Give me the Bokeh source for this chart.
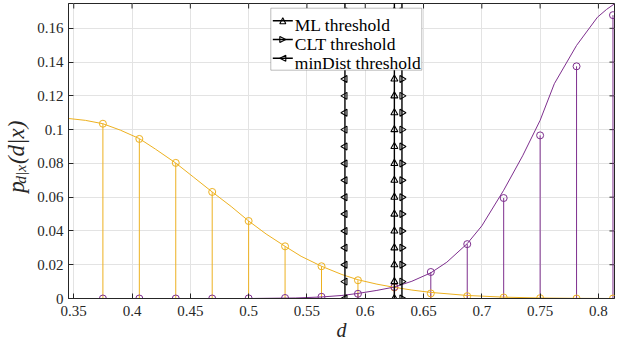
import numpy as np
from bokeh.plotting import figure
from bokeh.models import FixedTicker, Label, Range1d, BoxAnnotation, Arrow, NormalHead, LinearAxis
from bokeh.embed import file_html
from bokeh.resources import INLINE

# ---- data ----
d_pts = [0.375, 0.40625, 0.4375, 0.46875, 0.5, 0.53125, 0.5625, 0.59375,
         0.625, 0.65625, 0.6875, 0.71875, 0.75, 0.78125, 0.8125]
p_yellow = [0.1035, 0.0945, 0.0803, 0.0631, 0.0459, 0.0309, 0.0191, 0.0108,
            0.0065, 0.0030, 0.0014, 0.0006, 0.0002, 0.0, 0.0]
p_purple = [0.0, 0.0, 0.0, 0.0, 0.0001, 0.0003, 0.0010, 0.0028,
            0.0068, 0.0157, 0.0322, 0.0595, 0.0966, 0.1375, 0.1678]

curve_y_d = [0.3455, 0.36, 0.375, 0.39, 0.40625, 0.42, 0.4375, 0.4525, 0.46875,
             0.485, 0.5, 0.515, 0.53125, 0.545, 0.5625, 0.58, 0.59375, 0.61,
             0.625, 0.64, 0.65625, 0.6875, 0.71875, 0.75, 0.78125, 0.8138]
curve_y_v = [0.1066, 0.1055, 0.1035, 0.0997, 0.0947, 0.0885, 0.0802, 0.0720, 0.0631,
             0.0545, 0.0459, 0.0382, 0.0309, 0.0250, 0.0191, 0.0142, 0.0111, 0.0085,
             0.0066, 0.0050, 0.0036, 0.0018, 0.0008, 0.0003, 0.0001, 0.0]

curve_p_d = [0.3455, 0.5, 0.54, 0.5625, 0.58, 0.59375, 0.61, 0.625, 0.64, 0.65625,
             0.67, 0.6875, 0.70, 0.71875, 0.735, 0.75, 0.7622, 0.7813, 0.7992,
             0.807, 0.8138]
curve_p_v = [0.0, 0.0, 0.0003, 0.0009, 0.0018, 0.0030, 0.0048, 0.0068, 0.0102, 0.0152,
             0.0215, 0.0325, 0.0430, 0.0641, 0.0845, 0.1055, 0.1272, 0.1499, 0.1666,
             0.1712, 0.1745]

thr_ml = 0.625
thr_clt = 0.6315
thr_md = 0.5826
thr_y = [0.0, 0.01, 0.02, 0.03, 0.04, 0.05, 0.06, 0.07, 0.08, 0.09, 0.10,
         0.11, 0.12, 0.13, 0.14, 0.15, 0.16, 0.17, 0.18]
legend_labels = ["ML threshold", "CLT threshold", "minDist threshold"]

X_MIN, X_MAX = 0.3455, 0.8138
Y_MIN, Y_MAX = 0.0, 0.1747
x_ticks = [0.35, 0.4, 0.45, 0.5, 0.55, 0.6, 0.65, 0.7, 0.75, 0.8]
x_tick_labels = ["0.35", "0.4", "0.45", "0.5", "0.55", "0.6", "0.65", "0.7", "0.75", "0.8"]
y_ticks = [0, 0.02, 0.04, 0.06, 0.08, 0.1, 0.12, 0.14, 0.16]
y_tick_labels = ["0", "0.02", "0.04", "0.06", "0.08", "0.1", "0.12", "0.14", "0.16"]
NB = "\u00a0"
ylabel_main = "p" + NB * 3 + "(d|x)" + NB * 2
ylabel_sub = "d|x" + NB * 12

YELLOW = "#EDB120"
PURPLE = "#7E2F8E"
AX = "#262626"
FONT = "'Liberation Serif'"

p = figure(width=619, height=345, output_backend="svg", toolbar_location=None,
           x_range=Range1d(X_MIN, X_MAX), y_range=Range1d(Y_MIN, Y_MAX),
           min_border_left=65, min_border_right=5, min_border_top=3, min_border_bottom=47)
p.outline_line_color = AX
p.outline_line_width = 1
p.background_fill_color = "white"

p.xgrid.grid_line_color = "#e3e3e3"
p.ygrid.grid_line_color = "#e3e3e3"

xa = p.xaxis[0]
ya = p.yaxis[0]
for ax in (xa, ya):
    ax.axis_line_color = AX
    ax.major_tick_line_color = AX
    ax.major_tick_in = 5
    ax.major_tick_out = 0
    ax.minor_tick_line_color = None
    ax.major_label_text_font = FONT
    ax.major_label_text_font_size = "15px"
    ax.major_label_text_color = AX
xa.ticker = FixedTicker(ticks=x_ticks)
xa.major_label_overrides = dict(zip(x_ticks, x_tick_labels))
ya.ticker = FixedTicker(ticks=y_ticks)
ya.major_label_overrides = dict(zip(y_ticks, y_tick_labels))
xa.major_label_standoff = 7
ya.major_label_standoff = 5
xa.axis_label = "d"
xa.axis_label_text_font = FONT
xa.axis_label_text_font_style = "italic"
xa.axis_label_text_font_size = "20px"
xa.axis_label_text_color = AX
xa.axis_label_standoff = 0

# y label: subscript part on the main axis, the rest on an outer label-only axis
ya.axis_label = ylabel_sub
ya.axis_label_text_font = FONT
ya.axis_label_text_font_style = "italic"
ya.axis_label_text_font_size = "15.5px"
ya.axis_label_text_color = AX
ya.axis_label_standoff = 5

ya2 = LinearAxis(ticker=FixedTicker(ticks=[]), axis_line_color=None,
                 major_tick_line_color=None, minor_tick_line_color=None,
                 axis_label=ylabel_main, axis_label_text_font=FONT,
                 axis_label_text_font_style="italic", axis_label_text_font_size="23px",
                 axis_label_text_color=AX, axis_label_standoff=-19)
p.add_layout(ya2, "left")

# inward ticks on top and right edges of the box
p.ray(x=x_ticks, y=[Y_MAX] * len(x_ticks), length=5, length_units="screen",
      angle=-np.pi / 2, line_color=AX, line_width=1)
p.ray(x=[X_MAX] * len(y_ticks), y=y_ticks, length=5, length_units="screen",
      angle=np.pi, line_color=AX, line_width=1)

# stems
zeros = [0] * len(d_pts)
p.segment(x0=d_pts, y0=zeros, x1=d_pts, y1=p_yellow, line_color=YELLOW, line_width=1)
p.segment(x0=d_pts, y0=zeros, x1=d_pts, y1=p_purple, line_color=PURPLE, line_width=1)
p.scatter(d_pts, p_yellow, marker="circle", size=7, fill_color=None, line_color=YELLOW, line_width=1)
p.scatter(d_pts, p_purple, marker="circle", size=7, fill_color=None, line_color=PURPLE, line_width=1)

# curves
p.line(curve_y_d, curve_y_v, line_color=YELLOW, line_width=1)
p.line(curve_p_d, curve_p_v, line_color=PURPLE, line_width=1)

# thresholds
n = len(thr_y)
for xv, ang in ((thr_ml, 0.0), (thr_clt, -np.pi / 2), (thr_md, np.pi / 2)):
    p.line([xv] * n, thr_y, line_color="black", line_width=1.4)
    p.scatter([xv] * n, thr_y, marker="triangle", angle=ang, size=7, fill_color=None,
              line_color="black", line_width=1.1)

# ---- legend (screen units, relative to the plot frame) ----
p.add_layout(BoxAnnotation(left=202.3, right=353.3, top=290.3, bottom=228.3,
                           left_units="screen", right_units="screen",
                           top_units="screen", bottom_units="screen",
                           fill_color="white", fill_alpha=1.0,
                           line_color=AX, line_width=1))
entry_line_y = [277.7, 259.0, 240.3]
entry_text_y = [273.5, 254.8, 236.0]
dirs = [(0, 1), (1, 0), (-1, 0)]
gx0, gx1 = 204.3, 224.3
gc = (gx0 + gx1) / 2
hs = 6
for lab, ly, ty, (dx, dy) in zip(legend_labels, entry_line_y, entry_text_y, dirs):
    p.add_layout(Arrow(x_start=gx0, y_start=ly, x_end=gx1, y_end=ly,
                       start_units="screen", end_units="screen", start=None, end=None,
                       line_color="black", line_width=1.4))
    p.add_layout(Arrow(x_start=gc - dx * hs / 2 - dx, y_start=ly - dy * hs / 2 - dy,
                       x_end=gc + dx * hs / 2, y_end=ly + dy * hs / 2,
                       start_units="screen", end_units="screen", start=None,
                       end=NormalHead(size=hs, fill_color=None, line_color="black", line_width=1.1),
                       line_alpha=0))
    p.add_layout(Label(x=226.3, y=ty, x_units="screen", y_units="screen", text=lab,
                       text_font=FONT, text_font_size="17.5px", text_color="black",
                       text_align="left", text_baseline="alphabetic"))

open("out.html", "w").write(file_html(p, INLINE))
